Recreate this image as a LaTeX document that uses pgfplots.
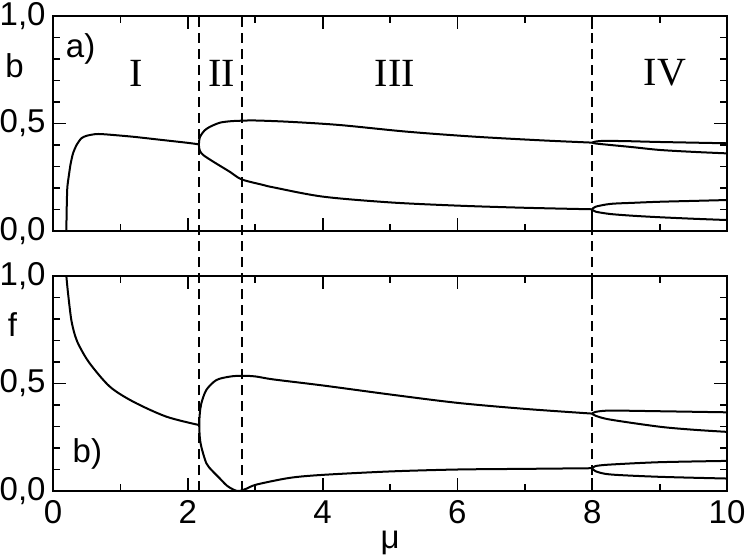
\documentclass[border=0pt]{standalone}
\usepackage{fontspec}
\setmainfont{Liberation Sans}
\newfontfamily\romanfont{Liberation Serif}
\usepackage{pgfplots}
\pgfplotsset{compat=1.18}
\begin{document}
\fontsize{16.5}{18}\selectfont
\begin{tikzpicture}
\pgfplotsset{
  panel/.style={
    width=337pt, height=107.5pt, scale only axis,
    xmin=0, xmax=10, ymin=0, ymax=1,
    xtick={0,2,4,6,8,10}, minor x tick num=1,
    ytick={0,0.5,1}, minor y tick num=4,
    yticklabels={{0,0},{0,5},{1,0}},
    major tick length=6.5pt, minor tick length=3.5pt,
    axis line style={line width=1.3pt},
    every tick/.style={black, line width=0.9pt},
    tick label style={font=\fontsize{16.5}{18}\selectfont},
    yticklabel style={inner xsep=3.5pt},
    xticklabel style={inner ysep=4.5pt},
    /pgf/number format/assume math mode=true,
    clip=false,
    every axis plot/.append style={black, line width=1pt, mark=none},
  },
}
% ---------------- top panel (b) ----------------
\begin{axis}[panel, name=top, at={(0,130pt)}, anchor=south west, xticklabels={}]
% region I
\addplot[smooth, tension=0.4] coordinates {
(0.198,0) (0.203,0.1) (0.212,0.2) (0.233,0.253) (0.26,0.31) (0.297,0.361)
(0.35,0.400) (0.42,0.431) (0.5,0.443) (0.643,0.451) (0.8,0.449) (1.2,0.438)
(1.6,0.424) (2.0,0.41) (2.165,0.403)};
% region II/III: lower branch back through the nose to the upper branch
\addplot[smooth, tension=0.5] coordinates {
(8.0,0.101) (7.0,0.108) (6.0,0.118) (5.0,0.133) (4.0,0.160) (3.27,0.203)
(3.12,0.214) (2.8,0.240) (2.62,0.276) (2.38,0.322) (2.23,0.353) (2.18,0.372)
(2.167,0.388) (2.165,0.403) (2.168,0.420) (2.18,0.437) (2.2,0.448)
(2.25,0.468) (2.33,0.485) (2.48,0.504) (2.65,0.511) (2.8,0.513) (3.0,0.514)
(3.5,0.508) (4.25,0.493) (5.25,0.462) (6.24,0.439) (7.22,0.422) (8.0,0.411)};
% region IV
\addplot[smooth] coordinates {(8.0,0.411) (8.05,0.416) (8.17,0.419) (8.5,0.418) (9.0,0.414) (10,0.408)};
\addplot[smooth] coordinates {(8.0,0.411) (8.05,0.407) (8.27,0.400) (8.6,0.390) (9.0,0.377) (9.5,0.368) (10,0.361)};
\addplot[smooth] coordinates {(8.0,0.101) (8.05,0.113) (8.27,0.126) (8.6,0.131) (9.0,0.136) (9.5,0.140) (10,0.144)};
\addplot[smooth] coordinates {(8.0,0.101) (8.05,0.090) (8.27,0.079) (8.6,0.071) (9.0,0.064) (9.5,0.057) (10,0.051)};
\node at (axis cs:0.41,0.847) {a)};
\node at (axis cs:-0.57,0.767) {b};
\node[font=\romanfont\fontsize{20}{22}\selectfont] at (axis cs:1.24,0.735) {I};
\node[font=\romanfont\fontsize{20}{22}\selectfont] at (axis cs:2.50,0.735) {II};
\node[font=\romanfont\fontsize{20}{22}\selectfont] at (axis cs:5.07,0.735) {III};
\node[font=\romanfont\fontsize{20}{22}\selectfont] at (axis cs:9.08,0.735) {IV};
\end{axis}
% ---------------- bottom panel (f) ----------------
\begin{axis}[panel, name=bot, at={(0,0)}, anchor=south west, xticklabels={0,2,4,6,8,10}]
% region I
\addplot[smooth, tension=0.5] coordinates {
(0.198,1.0) (0.223,0.92) (0.272,0.795) (0.33,0.72) (0.396,0.671) (0.544,0.594)
(0.841,0.486) (1.187,0.416) (1.68,0.346) (2.165,0.307)};
% region II/III
\addplot[smooth, tension=0.5] coordinates {
(8.0,0.106) (7.0,0.103) (6.0,0.100) (5.0,0.091) (4.0,0.075) (3.51,0.061)
(3.02,0.030) (2.88,0.012) (2.76,0.0) (2.68,0.006) (2.58,0.025) (2.473,0.059)
(2.36,0.095) (2.275,0.129) (2.2,0.206) (2.178,0.25) (2.17,0.307)
(2.178,0.36) (2.201,0.408) (2.275,0.470) (2.424,0.516) (2.622,0.532)
(2.795,0.536) (3.0,0.533) (3.27,0.519) (4.0,0.491) (5.0,0.449) (6.0,0.410)
(7.0,0.382) (8.0,0.360)};
% region IV
\addplot[smooth] coordinates {(8.0,0.360) (8.05,0.368) (8.27,0.374) (9.0,0.371) (10,0.366)};
\addplot[smooth] coordinates {(8.0,0.360) (8.05,0.350) (8.27,0.332) (9.0,0.299) (9.5,0.285) (10,0.275)};
\addplot[smooth] coordinates {(8.0,0.106) (8.05,0.116) (8.27,0.123) (9.0,0.134) (10,0.140)};
\addplot[smooth] coordinates {(8.0,0.106) (8.05,0.092) (8.27,0.077) (9.0,0.066) (10,0.058)};
% dashed region boundaries spanning both panels
\addplot[line width=1pt, dash pattern=on 5pt off 3pt] coordinates {(2.16,0) (2.16,2.2093)};
\addplot[line width=1pt, dash pattern=on 5pt off 3pt] coordinates {(2.80,0) (2.80,2.2093)};
\addplot[line width=1pt, dash pattern=on 5pt off 3pt] coordinates {(8.00,0) (8.00,2.2093)};
\node at (axis cs:0.51,0.172) {b)};
\node at (axis cs:-0.60,0.772) {f};
\node at (axis cs:5,-0.242) {μ};
\end{axis}
\pgfresetboundingbox
\useasboundingbox (-26.5pt,-32.5pt) rectangle (347pt,245.5pt);
\end{tikzpicture}
\end{document}
